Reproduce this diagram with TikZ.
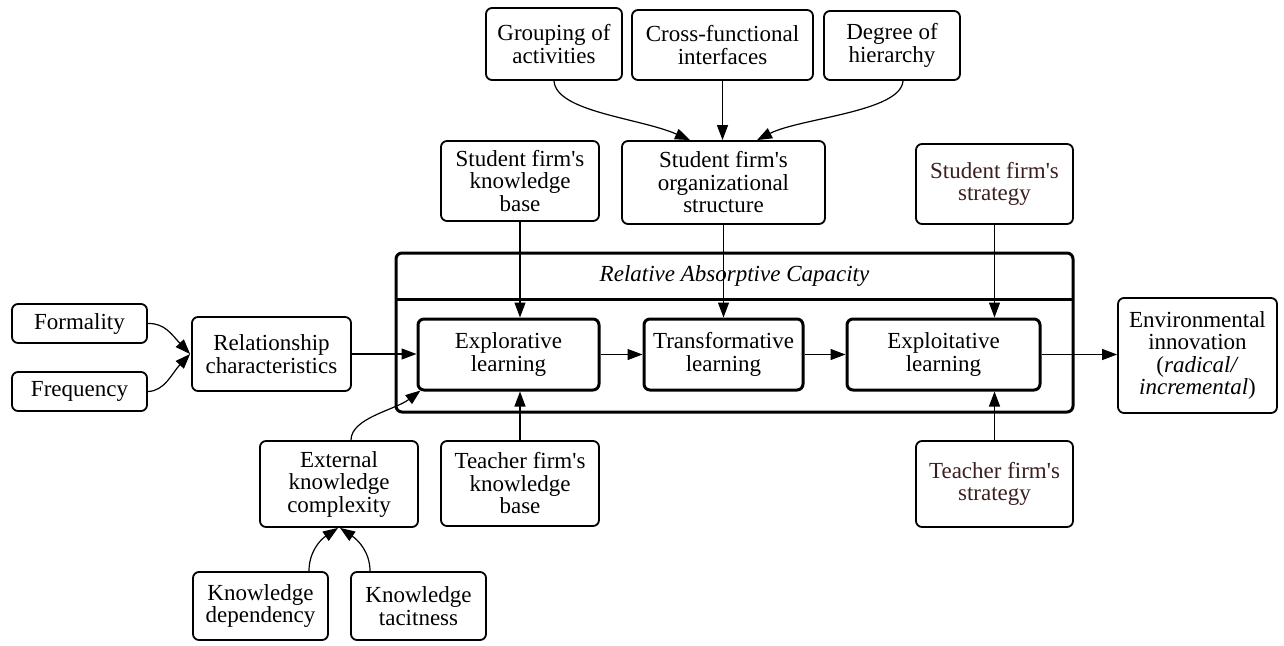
\documentclass[tikz,border=0pt]{standalone}
\usepackage{fontspec}
\setmainfont{Liberation Serif}
\usetikzlibrary{arrows.meta,calc}
\definecolor{stratbrown}{HTML}{3B1E1E}
\newcommand{\ap}{\textquotesingle}
\tikzset{
  box/.style={draw, line width=1.8pt, rounded corners=6pt, align=center, inner sep=0pt,
    font=\fontsize{23}{22.5}\selectfont},
  stagebox/.style={box, line width=3pt},
  link/.style={line width=1.2pt, -{Triangle[length=15pt,width=11pt]}},
  stratext/.style={text=stratbrown}
}
\begin{document}
\begin{tikzpicture}[x=1pt,y=-1pt]
\useasboundingbox (0,0) rectangle (1284,645);

% container for the three learning stages
\draw[line width=3pt, rounded corners=6pt] (396,253) rectangle (1073,412);
\draw[line width=3pt] (396,299) -- (1073,299);
\node[font=\fontsize{23}{22.5}\selectfont\itshape] (rac) at (734.5,276) {Relative Absorptive Capacity};

% upper row of structural factors
\node[box, minimum width=136, minimum height=72] (grp) at (554,44) {Grouping of\\activities};
\node[box, minimum width=181, minimum height=70] (cross) at (722.5,45) {Cross-functional\\interfaces};
\node[box, minimum width=136, minimum height=69] (deg) at (892,45.5) {Degree of\\hierarchy};

\node[box, minimum width=158, minimum height=80] (skb) at (520,181) {Student firm\ap s\\knowledge\\base};
\node[box, minimum width=203, minimum height=83] (org) at (723.5,182.5) {Student firm\ap s\\organizational\\structure};
\node[box, stratext, minimum width=157, minimum height=80] (sstr) at (994.5,184) {Student firm\ap s\\strategy};

% left-hand inputs
\node[box, minimum width=135, minimum height=39] (form) at (79.5,323.5) {Formality};
\node[box, minimum width=135, minimum height=39] (freq) at (79.5,391.5) {Frequency};
\node[box, minimum width=159, minimum height=74] (rel) at (271.5,354) {Relationship\\characteristics};

% learning stages
\node[stagebox, minimum width=181, minimum height=71] (expl) at (508.5,354.5) {Explorative\\learning};
\node[stagebox, minimum width=159, minimum height=71] (trans) at (723.5,354.5) {Transformative\\learning};
\node[stagebox, minimum width=193, minimum height=71] (exploit) at (943.5,354.5) {Exploitative\\learning};

\node[box, minimum width=159, minimum height=115] (env) at (1197.5,355.5) {Environmental\\innovation\\(\textit{radical/}\\\textit{incremental})};

% lower row
\node[box, minimum width=158, minimum height=86] (ekc) at (339,484) {External\\knowledge\\complexity};
\node[box, minimum width=158, minimum height=85] (tkb) at (520,483.5) {Teacher firm\ap s\\knowledge\\base};
\node[box, stratext, minimum width=157, minimum height=86] (tstr) at (994.5,484) {Teacher firm\ap s\\strategy};

\node[box, minimum width=135, minimum height=68] (kdep) at (260.5,606) {Knowledge\\dependency};
\node[box, minimum width=135, minimum height=68] (ktac) at (418.5,606) {Knowledge\\tacitness};

% connectors: structure
\draw[link] (grp.south) .. controls (556,112) and (640,118) .. ([xshift=-33.5]org.north);
\draw[link] (cross.south) -- (cross.south |- org.north);
\draw[link] ([xshift=11]deg.south) .. controls (901,112) and (800,118) .. ([xshift=33.5]org.north);

% connectors into the learning stages
\draw[link] (skb.south) -- (skb.south |- expl.north);
\draw[link] (org.south) -- (org.south |- trans.north);
\draw[link] (sstr.south) -- (sstr.south |- exploit.north);
\draw[link] (tkb.north) -- (tkb.north |- expl.south);
\draw[link] (tstr.north) -- (tstr.north |- exploit.south);

\draw[link] (form.east) .. controls (165,323) and (172,335) .. ([xshift=-1]rel.west);
\draw[link] (freq.east) .. controls (165,391) and (172,373) .. ([xshift=-1]rel.west);
\draw[link] (rel.east) -- (rel.east -| expl.west);
\draw[link] (expl.east) -- (trans.west);
\draw[link] (trans.east) -- (exploit.west);
\draw[link] (exploit.east) -- (exploit.east -| env.west);

\draw[link] ([xshift=12]ekc.north) .. controls (351,418) and (395,410) .. ([shift={(4,-1)}]expl.south west);
\draw[link] ([xshift=48.5]kdep.north) .. controls (309,552) and (320,540) .. ([xshift=-1]ekc.south);
\draw[link] ([xshift=-48.5]ktac.north) .. controls (370,552) and (358,540) .. ([xshift=1]ekc.south);
\end{tikzpicture}
\end{document}
